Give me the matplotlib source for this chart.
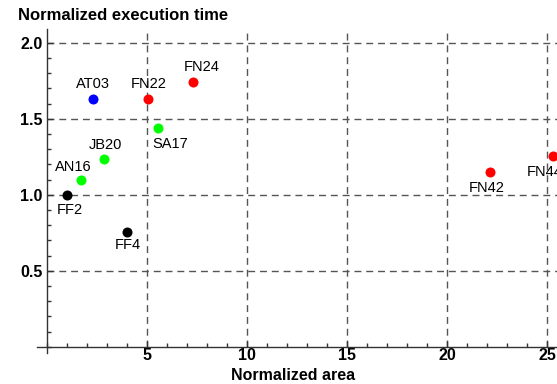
import matplotlib
matplotlib.use("Agg")
import matplotlib.pyplot as plt
from matplotlib.ticker import MultipleLocator

plt.rcParams['font.family'] = ['Liberation Sans', 'DejaVu Sans']

# Data
red_names = ["FN22", "FN24", "FN42", "FN44"]
red_area = [5.07, 7.32, 22.13, 25.3]
red_time = [1.63, 1.74, 1.15, 1.257]

green_names = ["AN16", "JB20", "SA17"]
green_area = [1.68, 2.85, 5.57]
green_time = [1.095, 1.235, 1.44]

blue_names = ["AT03"]
blue_area = [2.32]
blue_time = [1.63]

black_names = ["FF2", "FF4"]
black_area = [1.0, 3.98]
black_time = [1.0, 0.757]

x_ticks = [5, 10, 15, 20, 25]
y_ticks = [0.5, 1.0, 1.5, 2.0]

# label offsets in pixels (style)
offsets = {
    "AT03": (0, 15), "FN22": (0, 15), "FN24": (8, 15), "SA17": (12, -16),
    "JB20": (1, 14), "AN16": (-7, 13), "FF2": (3, -15), "FF4": (1, -13),
    "FN42": (-3, -16), "FN44": (-8, -16),
}

fig = plt.figure(figsize=(5.57, 3.84), dpi=100)
ax = fig.add_axes([37/557, 31/384, 1 - 37/557, (353-29)/384])
xmin, xmax = -0.5, 25.5
ymin, ymax = -0.04, 2.09
ax.set_xlim(xmin, xmax)
ax.set_ylim(ymin, ymax)

grid_style = dict(colors='#555555', linewidths=1, linestyles=[(0, (5, 3.5))], zorder=1)
ax.vlines(x_ticks, 0, ymax, **grid_style)
ax.hlines(y_ticks, 0, xmax, **grid_style)

groups = [
    (red_names, red_area, red_time, '#ff0000'),
    (green_names, green_area, green_time, '#00ff00'),
    (blue_names, blue_area, blue_time, '#0000ff'),
    (black_names, black_area, black_time, '#000000'),
]
for names, xs, ys, c in groups:
    ax.scatter(xs, ys, s=52, color=c, zorder=3, clip_on=False, linewidths=0)
    for n, xv, yv in zip(names, xs, ys):
        dx, dy = offsets[n]
        ax.annotate(n, (xv, yv), xytext=(dx, dy), textcoords='offset pixels',
                    ha='center', va='center', fontsize=10.5, color='black',
                    annotation_clip=False)

for s in ['top', 'right']:
    ax.spines[s].set_visible(False)
ax.spines['left'].set_position(('data', 0))
ax.spines['bottom'].set_position(('data', 0))
for s in ['left', 'bottom']:
    ax.spines[s].set_color('#333333')
    ax.spines[s].set_linewidth(1)

ax.xaxis.set_minor_locator(MultipleLocator(1))
ax.yaxis.set_minor_locator(MultipleLocator(0.1))
ax.set_xticks(x_ticks)
ax.set_yticks(y_ticks)
ax.set_yticklabels([f"{v:.1f}" for v in y_ticks])
ax.tick_params(which='major', direction='in', length=4.5, width=1, color='#333333',
               labelsize=11.5)
ax.tick_params(axis='x', which='major', pad=1)
ax.tick_params(axis='y', which='major', pad=3)
ax.tick_params(which='minor', direction='in', length=3, width=1, color='#333333')
for lab in ax.get_xticklabels() + ax.get_yticklabels():
    lab.set_fontweight('bold')

fig.text(18/557, 1 - 15/384, "Normalized execution time", ha='left', va='center',
         fontsize=12, fontweight='bold')
fig.text(293/557, 1 - 375/384, "Normalized area", ha='center', va='center',
         fontsize=11.5, fontweight='bold')

fig.savefig("out.png", dpi=100)
